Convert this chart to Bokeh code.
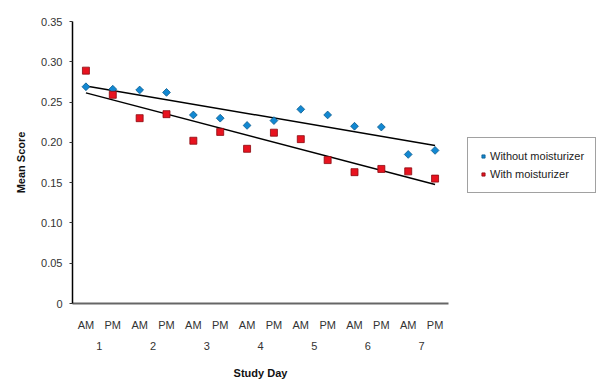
import numpy as np
from bokeh.plotting import figure
from bokeh.models import (Range1d, LinearAxis, FixedTicker, NumeralTickFormatter,
                          Legend, LegendItem, ColumnDataSource)
from bokeh.embed import file_html
from bokeh.resources import INLINE

# ---- data ----
slots = ["AM", "PM"] * 7
days = ["1", "2", "3", "4", "5", "6", "7"]
idx = list(range(1, 15))
without_moist = [0.269, 0.266, 0.265, 0.262, 0.234, 0.230, 0.221,
                 0.227, 0.241, 0.234, 0.220, 0.219, 0.185, 0.190]
with_moist = [0.289, 0.259, 0.230, 0.235, 0.202, 0.213, 0.192,
              0.212, 0.204, 0.178, 0.163, 0.167, 0.164, 0.155]
y_ticks = [0, 0.05, 0.10, 0.15, 0.20, 0.25, 0.30, 0.35]

FONT = "Liberation Sans"
BLUE = "#1288d2"
RED = "#e8131f"

p = figure(frame_width=376, frame_height=282, output_backend="svg", toolbar_location=None,
           x_range=Range1d(0.5, 14.5), y_range=Range1d(0, 0.35),
           min_border_left=72, min_border_top=21, min_border_right=151,
           min_border_bottom=0)
p.outline_line_color = None
p.xgrid.visible = False
p.ygrid.visible = False

# y axis
ya = p.yaxis[0]
ya.ticker = FixedTicker(ticks=y_ticks)
ya.formatter = NumeralTickFormatter(format="0.00")
ya.major_label_overrides = {0: "0"}
ya.axis_line_color = "black"
ya.axis_line_width = 1.5
ya.major_tick_line_color = "#333333"
ya.major_tick_out = 3
ya.major_tick_in = 0
ya.minor_tick_line_color = None
ya.major_label_standoff = 7
ya.major_label_text_font = FONT
ya.major_label_text_font_size = "11px"
ya.major_label_text_color = "#333333"
ya.axis_label = "Mean Score"
ya.axis_label_text_font = FONT
ya.axis_label_text_font_size = "11px"
ya.axis_label_text_font_style = "bold"
ya.axis_label_text_color = "#111111"
ya.axis_label_standoff = 11

# x axis: AM/PM row (default bottom axis)
xa1 = p.xaxis[0]
xa1.ticker = FixedTicker(ticks=idx)
xa1.major_label_overrides = {i: s for i, s in zip(idx, slots)}
xa1.axis_line_color = "#666666"
xa1.axis_line_width = 2
xa1.major_tick_line_color = None
xa1.minor_tick_line_color = None
xa1.major_label_standoff = 9
xa1.major_label_text_font = FONT
xa1.major_label_text_font_size = "11px"
xa1.major_label_text_color = "#333333"

# x axis: day row
day_pos = [i + 0.5 for i in idx[::2]]
xa2 = LinearAxis(ticker=FixedTicker(ticks=day_pos),
                 major_label_overrides={d: s for d, s in zip(day_pos, days)})
xa2.axis_line_color = None
xa2.major_tick_line_color = None
xa2.minor_tick_line_color = None
xa2.major_label_standoff = 2
xa2.major_label_text_font = FONT
xa2.major_label_text_font_size = "11px"
xa2.major_label_text_color = "#333333"
xa2.axis_label = "Study Day"
xa2.axis_label_text_font = FONT
xa2.axis_label_text_font_size = "11px"
xa2.axis_label_text_font_style = "bold"
xa2.axis_label_text_color = "#111111"
xa2.axis_label_standoff = 14
p.add_layout(xa2, "below")

# trend lines (least squares)
x = np.array(idx, dtype=float)
for ys in (without_moist, with_moist):
    k, b = np.polyfit(x, np.array(ys), 1)
    p.line([x[0], x[-1]], [k * x[0] + b, k * x[-1] + b], line_color="black", line_width=1.5)

src = ColumnDataSource(dict(x=idx, wo=without_moist, w=with_moist))
r_blue = p.scatter("x", "wo", source=src, marker="square", size=5.5, angle=np.pi / 4,
                   fill_color=BLUE, line_color="#0b5a8c", line_width=0.8)
r_red = p.scatter("x", "w", source=src, marker="square", size=7,
                  fill_color=RED, line_color="#8a0a10", line_width=0.8)

legend = Legend(items=[LegendItem(label="Without moisturizer", renderers=[r_blue]),
                       LegendItem(label="With moisturizer", renderers=[r_red])],
                location=(19, 110), margin=0, padding=11, spacing=4,
                glyph_width=8, glyph_height=14, label_height=14, label_standoff=3,
                label_text_font=FONT, label_text_font_size="11px",
                label_text_color="#222222",
                border_line_color="#444444", border_line_width=1,
                background_fill_color="white")
p.add_layout(legend, "right")

open("out.html", "w").write(file_html(p, INLINE))
